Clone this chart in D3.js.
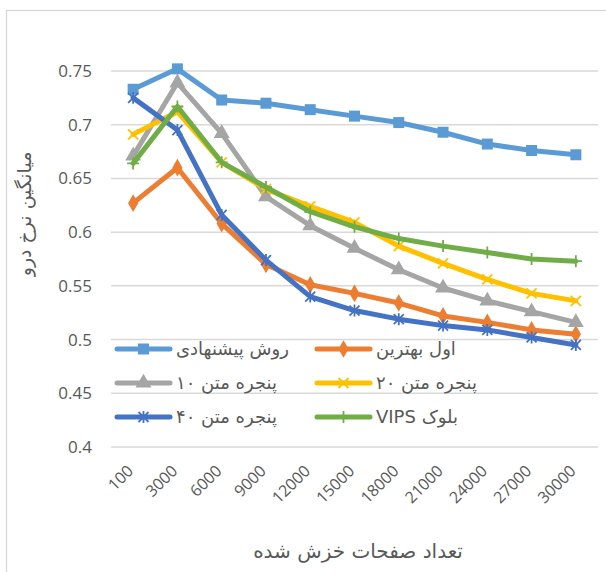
<!DOCTYPE html>
<html>
<head>
<meta charset="utf-8">
<script src="https://cdn.jsdelivr.net/npm/d3@7"></script>
<style>
  body { margin: 0; background: #fff; }
  svg { display: block; }
</style>
</head>
<body>
<svg id="chart" width="606" height="572"></svg>
<script>
const categories = ["100", "3000", "6000", "9000", "12000", "15000", "18000", "21000", "24000", "27000", "30000"];
const yTicks = [0.4, 0.45, 0.5, 0.55, 0.6, 0.65, 0.7, 0.75];

const proposed = [0.733, 0.752, 0.723, 0.720, 0.714, 0.708, 0.702, 0.693, 0.682, 0.676, 0.672];
const firstBest = [0.627, 0.660, 0.608, 0.570, 0.551, 0.543, 0.534, 0.522, 0.516, 0.509, 0.505];
const window10 = [0.671, 0.739, 0.692, 0.633, 0.606, 0.585, 0.565, 0.548, 0.536, 0.526, 0.516];
const window20 = [0.691, 0.712, 0.665, 0.640, 0.624, 0.609, 0.587, 0.571, 0.556, 0.543, 0.536];
const window40 = [0.725, 0.695, 0.616, 0.574, 0.540, 0.527, 0.519, 0.513, 0.509, 0.502, 0.495];
const vipsBlock = [0.664, 0.717, 0.665, 0.642, 0.619, 0.605, 0.594, 0.587, 0.581, 0.575, 0.573];

const seriesNames = ["روش پیشنهادی", "اول بهترین", "پنجره متن ۱۰", "پنجره متن ۲۰", "پنجره متن ۴۰", "بلوک VIPS"];

const series = [
    { name: seriesNames[0], values: proposed, color: "#5B9BD5", marker: "square" },
    { name: seriesNames[1], values: firstBest, color: "#ED7D31", marker: "diamond" },
    { name: seriesNames[2], values: window10, color: "#A5A5A5", marker: "triangle" },
    { name: seriesNames[3], values: window20, color: "#FFC000", marker: "x" },
    { name: seriesNames[4], values: window40, color: "#4472C4", marker: "star" },
    { name: seriesNames[5], values: vipsBlock, color: "#70AD47", marker: "plus" }
];

const svg = d3.select("#chart");
const textColor = "#595959";
const gridColor = "#D9D9D9";
const numFont = "'Open Sans', 'Liberation Sans', sans-serif";
const faFont = "'DejaVu Sans', sans-serif";

// chart border (runs off the right/bottom edge like the source)
svg.append("rect")
    .attr("x", 6.5).attr("y", 10.5)
    .attr("width", 640).attr("height", 600)
    .attr("fill", "none")
    .attr("stroke", gridColor)
    .attr("stroke-width", 1.3);

const xScale = d3.scaleBand()
    .domain(categories)
    .range([111, 598])
    .padding(0);
const yScale = d3.scaleLinear()
    .domain([0.4, 0.75])
    .range([447, 71]);
const cx = c => xScale(c) + xScale.bandwidth() / 2;

// gridlines
svg.append("g")
    .selectAll("line")
    .data(yTicks)
    .enter()
    .append("line")
    .attr("x1", 111).attr("x2", 598)
    .attr("y1", d => yScale(d)).attr("y2", d => yScale(d))
    .attr("stroke", gridColor)
    .attr("stroke-width", 1.5);

// y axis labels
const yAxis = d3.axisLeft(yScale)
    .tickValues(yTicks)
    .tickSize(0)
    .tickPadding(0)
    .tickFormat(d => String(+d.toFixed(2)));
const yg = svg.append("g")
    .attr("transform", "translate(92,0)")
    .call(yAxis);
yg.select(".domain").remove();
yg.selectAll("text")
    .attr("fill", textColor)
    .style("font-family", numFont)
    .style("font-size", "17px");

// x axis labels
const xAxis = d3.axisBottom(xScale).tickSize(0).tickPadding(0);
const xg = svg.append("g")
    .attr("transform", "translate(0,447)")
    .call(xAxis);
xg.select(".domain").remove();
xg.selectAll(".tick text")
    .attr("fill", textColor)
    .style("font-family", numFont)
    .style("font-size", "16px")
    .style("text-anchor", "end")
    .attr("y", 0)
    .attr("dy", "0.35em")
    .attr("transform", "translate(-3,21) rotate(-45)");

// axis titles
svg.append("text")
    .attr("x", 358).attr("y", 558)
    .attr("text-anchor", "middle")
    .attr("fill", textColor)
    .style("font-family", faFont)
    .style("font-size", "20px")
    .text("تعداد صفحات خزش شده");

svg.append("text")
    .attr("transform", "translate(31,214) rotate(-90)")
    .attr("text-anchor", "middle")
    .attr("fill", textColor)
    .style("font-family", faFont)
    .style("font-size", "19px")
    .text("میانگین نرخ درو");

function drawMarker(g, type, color, x, y) {
    if (type === "square") {
        g.append("rect").attr("x", x - 5.5).attr("y", y - 5.5)
            .attr("width", 11).attr("height", 11).attr("fill", color);
    } else if (type === "diamond") {
        g.append("path").attr("d", d3.symbol(d3.symbolDiamond, 90)())
            .attr("transform", `translate(${x},${y})`).attr("fill", color);
    } else if (type === "triangle") {
        g.append("path").attr("d", d3.symbol(d3.symbolTriangle, 110)())
            .attr("transform", `translate(${x},${y})`).attr("fill", color);
    } else if (type === "x") {
        g.append("path").attr("d", `M${x - 5},${y - 5}L${x + 5},${y + 5}M${x - 5},${y + 5}L${x + 5},${y - 5}`)
            .attr("stroke", color).attr("stroke-width", 1.8).attr("fill", "none");
    } else if (type === "star") {
        g.append("path").attr("d", `M${x - 5},${y - 5}L${x + 5},${y + 5}M${x - 5},${y + 5}L${x + 5},${y - 5}M${x},${y - 6}L${x},${y + 6}`)
            .attr("stroke", color).attr("stroke-width", 1.8).attr("fill", "none");
    } else if (type === "plus") {
        g.append("path").attr("d", `M${x - 6},${y}L${x + 6},${y}M${x},${y - 6}L${x},${y + 6}`)
            .attr("stroke", color).attr("stroke-width", 1.8).attr("fill", "none");
    }
}

// legend (drawn inside the plot area, under the lines)
const legendPos = [[115, 349], [315, 349], [115, 383], [315, 383], [115, 417], [315, 417]];
series.forEach((s, i) => {
    const [lx, ly] = legendPos[i];
    const g = svg.append("g").attr("class", "legend");
    g.append("line")
        .attr("x1", lx + 2).attr("x2", lx + 55)
        .attr("y1", ly).attr("y2", ly)
        .attr("stroke", s.color)
        .attr("stroke-width", 5)
        .attr("stroke-linecap", "round");
    drawMarker(g, s.marker, s.color, lx + 28.5, ly);
    g.append("text")
        .attr("x", lx + 61).attr("y", ly)
        .attr("dy", "0.35em")
        .attr("direction", "rtl")
        .attr("text-anchor", "end")
        .attr("fill", textColor)
        .style("font-family", faFont)
        .style("font-size", "18px")
        .text(s.name);
});

// lines
const line = d3.line()
    .x((d, i) => cx(categories[i]))
    .y(d => yScale(d));

series.forEach(s => {
    const g = svg.append("g").attr("class", "series");
    g.append("path")
        .datum(s.values)
        .attr("d", line)
        .attr("fill", "none")
        .attr("stroke", s.color)
        .attr("stroke-width", 5)
        .attr("stroke-linejoin", "round")
        .attr("stroke-linecap", "round");
    s.values.forEach((v, i) => drawMarker(g, s.marker, s.color, cx(categories[i]), yScale(v)));
});
</script>
</body>
</html>
